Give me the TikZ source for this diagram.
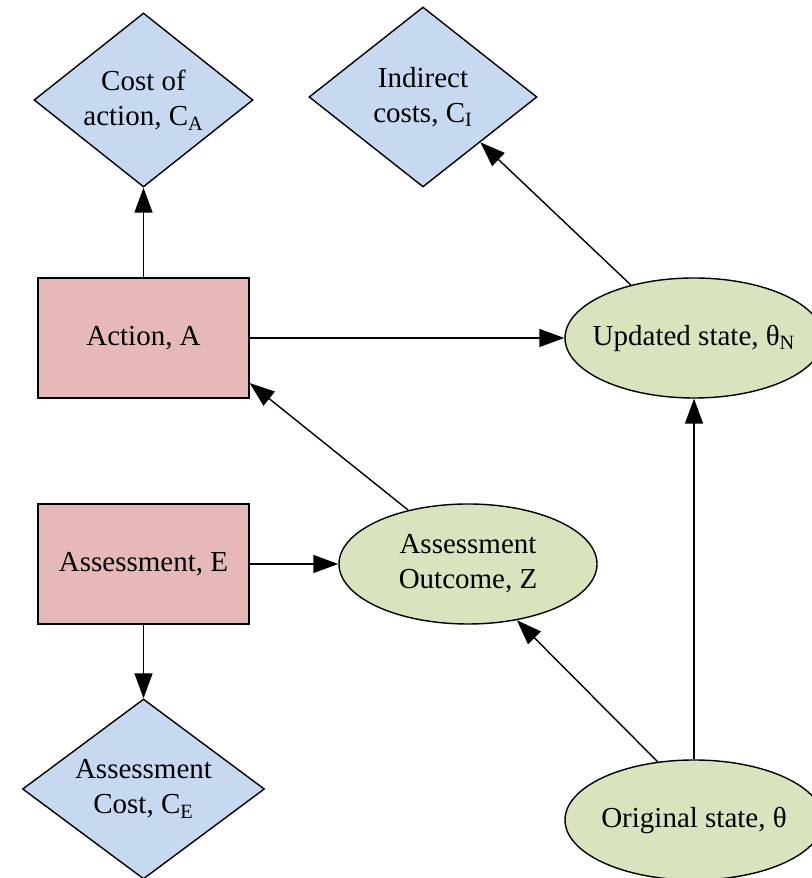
\documentclass[tikz,border=0pt]{standalone}
\usepackage{fontspec}
\setmainfont{Liberation Serif}
\usepackage{tikz}
\usetikzlibrary{shapes,arrows.meta,positioning,calc}
\definecolor{costblue}{RGB}{198,217,240}
\definecolor{decisionred}{RGB}{230,185,184}
\definecolor{chancegreen}{RGB}{215,228,189}

\begin{document}
\begin{tikzpicture}[
    every node/.style={font=\fontsize{16.5}{20}\selectfont},
    cost/.style={diamond, draw, fill=costblue, line width=0.8pt, inner sep=0pt, align=center},
    decision/.style={rectangle, draw, fill=decisionred, line width=0.8pt, minimum width=4.22cm, minimum height=2.4cm, align=center},
    chance/.style={ellipse, draw, fill=chancegreen, line width=0.8pt, minimum width=5.16cm, minimum height=2.4cm, inner ysep=0pt, inner xsep=-0.3cm, align=center},
    link/.style={line width=0.8pt, -{Triangle[length=0.5cm, width=0.36cm]}}
]
    \useasboundingbox (0,0) rectangle (16.22,17.56);

    % Cost nodes (diamonds)
    \node[cost, shape aspect=1.26, minimum width=4.38cm, minimum height=3.48cm] (CA) at (2.87,15.56) {Cost of\\action, C\textsubscript{A}};
    \node[cost, shape aspect=1.27, minimum width=4.56cm, minimum height=3.6cm] (CI) at (8.46,15.62) {Indirect\\costs, C\textsubscript{I}};
    \node[cost, shape aspect=1.34, minimum width=4.84cm, minimum height=3.6cm] (CE) at (2.87,1.78) {Assessment\\Cost, C\textsubscript{E}};

    % Decision nodes (rectangles)
    \node[decision] (action) at (2.87,10.8) {Action, A};
    \node[decision] (assess) at (2.87,6.28) {Assessment, E};

    % State nodes (ellipses)
    \node[chance] (updated) at (13.88,10.8) {Updated state, θ\textsubscript{N}};
    \node[chance] (outcome) at (9.36,6.28) {Assessment\\Outcome, Z};
    \node[chance] (original) at (13.88,1.16) {Original state, θ};

    % Links
    \draw[link] (action) -- (CA);
    \draw[link] (action) -- (updated);
    \draw[link] (updated.140) -- (CI.south east);
    \draw[link] (outcome.138) -- (action.-23);
    \draw[link] (assess) -- (outcome);
    \draw[link] (assess) -- (CE);
    \draw[link] (original.122) -- (outcome.-49);
    \draw[link] (original) -- (updated);

\end{tikzpicture}
\end{document}
